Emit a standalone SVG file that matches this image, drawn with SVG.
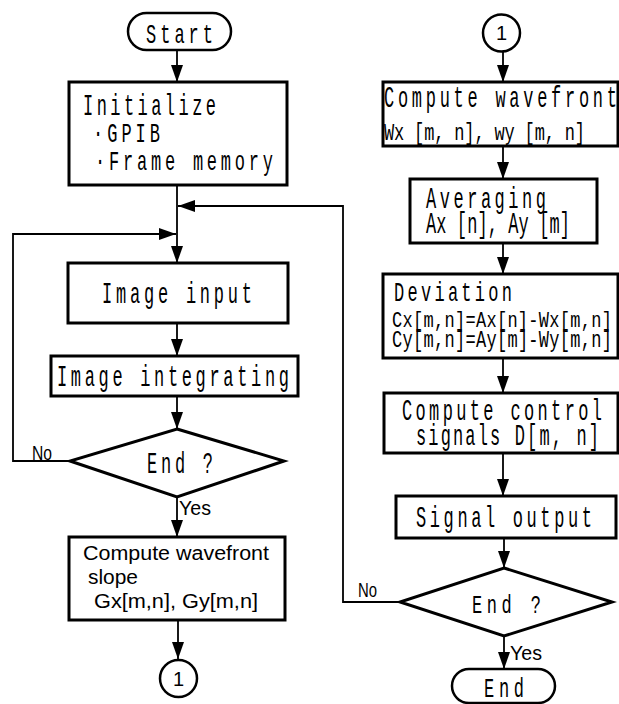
<svg xmlns="http://www.w3.org/2000/svg" width="619" height="704" viewBox="0 0 619 704">
  <style>
    .box { fill: #fff; stroke: #000; stroke-width: 3; }
    .term { fill: #fff; stroke: #000; stroke-width: 2.5; }
    .conn { fill: none; stroke: #000; stroke-width: 1.8; }
    .m { font-family: "Liberation Mono", "DejaVu Sans Mono", monospace; font-size: 17px; fill: #000; }
    .s { font-family: "Liberation Sans", Arial, sans-serif; font-size: 19.5px; fill: #000; }
    .lbl { font-family: "Liberation Sans", Arial, sans-serif; font-size: 20px; fill: #000; }
  </style>
  <defs>
    <marker id="ah" viewBox="0 0 17 12" refX="17" refY="6" markerWidth="17" markerHeight="12" orient="auto" markerUnits="userSpaceOnUse">
      <path d="M0,0 L17,6 L0,12 z" fill="#000"/>
    </marker>
  </defs>
  <rect width="619" height="704" fill="#fff"/>

  <!-- connectors -->
  <g id="connectors" class="conn">
    <line x1="177" y1="50" x2="177" y2="82" marker-end="url(#ah)"/>
    <line x1="177" y1="185" x2="177" y2="263" marker-end="url(#ah)"/>
    <line x1="177" y1="323" x2="177" y2="356" marker-end="url(#ah)"/>
    <line x1="177" y1="396" x2="177" y2="429" marker-end="url(#ah)"/>
    <line x1="177" y1="497" x2="177" y2="537" marker-end="url(#ah)"/>
    <line x1="178" y1="620" x2="178" y2="659" marker-end="url(#ah)"/>
    <polyline points="70,461 13,461 13,234 176,234" marker-end="url(#ah)"/>
    <line x1="503" y1="52" x2="503" y2="82" marker-end="url(#ah)"/>
    <line x1="503" y1="146" x2="503" y2="179" marker-end="url(#ah)"/>
    <line x1="503" y1="243" x2="503" y2="274" marker-end="url(#ah)"/>
    <line x1="503" y1="358" x2="503" y2="393" marker-end="url(#ah)"/>
    <line x1="503" y1="453" x2="503" y2="496" marker-end="url(#ah)"/>
    <line x1="504" y1="538" x2="504" y2="568" marker-end="url(#ah)"/>
    <line x1="504" y1="636" x2="504" y2="669" marker-end="url(#ah)"/>
    <polyline points="400,602 343,602 343,206 178,206" marker-end="url(#ah)"/>
  </g>

  <!-- left column -->
  <g id="start">
    <rect class="term" x="128" y="13" width="103" height="37" rx="18.5"/>
    <text class="m" transform="translate(146 43) scale(1 1.6)" textLength="67" lengthAdjust="spacing">Start</text>
  </g>
  <g id="initialize">
    <rect class="box" x="69" y="82" width="218" height="103"/>
    <text class="m" transform="translate(83 115) scale(1 1.7)" textLength="133" lengthAdjust="spacing">Initialize</text>
    <text class="m" transform="translate(93 142) scale(1 1.6)" textLength="67" lengthAdjust="spacing">·GPIB</text>
    <text class="m" transform="translate(95 170) scale(1 1.65)" textLength="178" lengthAdjust="spacing">·Frame memory</text>
  </g>
  <g id="image-input">
    <rect class="box" x="68" y="263" width="220" height="60"/>
    <text class="m" transform="translate(102 303) scale(1 1.7)" textLength="150" lengthAdjust="spacing">Image input</text>
  </g>
  <g id="image-integrating">
    <rect class="box" x="51" y="356" width="247" height="40"/>
    <text class="m" transform="translate(57 386) scale(1 1.7)" textLength="232" lengthAdjust="spacing">Image integrating</text>
  </g>
  <g id="end-check-1">
    <polygon class="box" points="177,429 284,461 177,497 70,461"/>
    <text class="m" transform="translate(147 473) scale(1 1.7)" textLength="66" lengthAdjust="spacing">End ?</text>
    <text class="lbl" x="32" y="460" textLength="20" lengthAdjust="spacingAndGlyphs">No</text>
    <text class="lbl" x="179" y="515" textLength="32" lengthAdjust="spacingAndGlyphs">Yes</text>
  </g>
  <g id="compute-slope">
    <rect class="box" x="69" y="537" width="216" height="83"/>
    <text class="s" x="83" y="560" textLength="186" lengthAdjust="spacingAndGlyphs">Compute wavefront</text>
    <text class="s" x="88" y="584" textLength="50" lengthAdjust="spacingAndGlyphs">slope</text>
    <text class="s" x="94" y="608" textLength="164" lengthAdjust="spacingAndGlyphs">Gx[m,n], Gy[m,n]</text>
  </g>
  <g id="connector-out">
    <circle class="term" cx="178.5" cy="678.5" r="18.5"/>
    <text class="lbl" x="178.5" y="686" text-anchor="middle">1</text>
  </g>

  <!-- right column -->
  <g id="connector-in">
    <circle class="term" cx="501.5" cy="33" r="18.5"/>
    <text class="lbl" x="501.5" y="40" text-anchor="middle">1</text>
  </g>
  <g id="compute-wavefront">
    <rect class="box" x="383" y="82" width="235" height="64"/>
    <text class="m" transform="translate(384 107) scale(1 1.75)" textLength="233" lengthAdjust="spacing">Compute wavefront</text>
    <text class="m" transform="translate(384 140) scale(1 1.45)" textLength="201" lengthAdjust="spacing">Wx [m, n], wy [m, n]</text>
  </g>
  <g id="averaging">
    <rect class="box" x="410" y="179" width="187" height="64"/>
    <text class="m" transform="translate(426 208) scale(1 1.75)" textLength="120" lengthAdjust="spacing">Averaging</text>
    <text class="m" transform="translate(426 233) scale(1 1.75)" textLength="144" lengthAdjust="spacing">Ax [n], Ay [m]</text>
  </g>
  <g id="deviation">
    <rect class="box" x="383" y="274" width="235" height="84"/>
    <text class="m" transform="translate(394 301) scale(1 1.6)" textLength="118" lengthAdjust="spacing">Deviation</text>
    <text class="m" transform="translate(392 327) scale(1 1.35)" textLength="220" lengthAdjust="spacing">Cx[m,n]=Ax[n]-Wx[m,n]</text>
    <text class="m" transform="translate(392 347) scale(1 1.4)" textLength="220" lengthAdjust="spacing">Cy[m,n]=Ay[m]-Wy[m,n]</text>
  </g>
  <g id="compute-control">
    <rect class="box" x="384" y="393" width="234" height="60"/>
    <text class="m" transform="translate(402 420) scale(1 1.72)" textLength="200" lengthAdjust="spacing">Compute control</text>
    <text class="m" transform="translate(416 445) scale(1 1.72)" textLength="183" lengthAdjust="spacing">signals D[m, n]</text>
  </g>
  <g id="signal-output">
    <rect class="box" x="396" y="496" width="220" height="42"/>
    <text class="m" transform="translate(416 527) scale(1 1.72)" textLength="176" lengthAdjust="spacing">Signal output</text>
  </g>
  <g id="end-check-2">
    <polygon class="box" points="504,568 612,602 504,636 400,602"/>
    <text class="m" transform="translate(472 613) scale(1 1.5)" textLength="69" lengthAdjust="spacing">End ?</text>
    <text class="lbl" x="358" y="597" textLength="19" lengthAdjust="spacingAndGlyphs">No</text>
    <text class="lbl" x="510" y="660" textLength="32" lengthAdjust="spacingAndGlyphs">Yes</text>
  </g>
  <g id="end">
    <rect class="term" x="452" y="669" width="103" height="34" rx="17"/>
    <text class="m" transform="translate(484 697) scale(1 1.6)" textLength="40" lengthAdjust="spacing">End</text>
  </g>
</svg>
